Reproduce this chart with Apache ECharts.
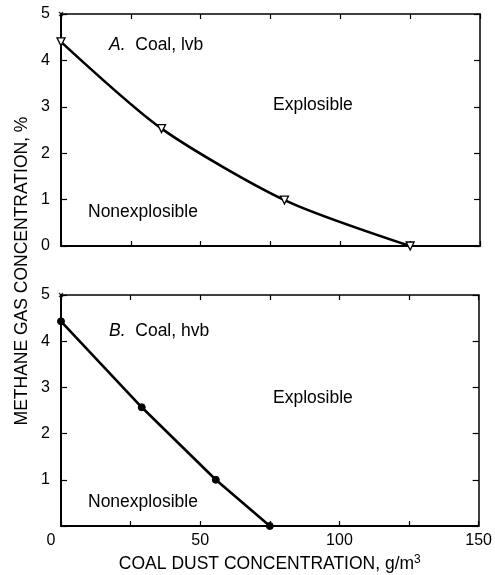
<!DOCTYPE html>
<html><head><meta charset="utf-8">
<script src="https://cdn.jsdelivr.net/npm/echarts@6/dist/echarts.min.js"></script>
<style>html,body{margin:0;padding:0;background:#fff}#c{width:495px;height:575px}</style>
</head><body><div id="c"></div>
<script>
// Data
const lvbDust = [0, 36, 80, 125];
const lvbMethane = [4.4, 2.53, 0.99, 0];
const hvbDust = [0, 29, 55.6, 75];
const hvbMethane = [4.43, 2.57, 1.0, 0];
const xTicks = [0, 50, 100, 150];
const yTicks = [0, 1, 2, 3, 4, 5];

const F = 'Liberation Sans, Arial, Helvetica, sans-serif';
const FS = 17.5;
const TS = 16;
const chart = echarts.init(document.getElementById('c'), null, {renderer: 'canvas'});

const grids = [
  {left: 61, top: 14, width: 419, height: 232},
  {left: 61, top: 295, width: 419, height: 231}
];

function xAx(gi, pos, labels) {
  return {
    type: 'value', gridIndex: gi, position: pos, min: 0, max: 150, interval: 25,
    axisLine: {show: true, onZero: false, lineStyle: {color: '#000', width: pos === 'bottom' ? 2 : 1.5}},
    axisTick: {show: true, inside: true, length: 5, lineStyle: {color: '#000', width: 1.2}},
    splitLine: {show: false},
    axisLabel: {
      show: labels, color: '#000', fontFamily: F, fontSize: TS, margin: 7,
      formatter: v => xTicks.indexOf(v) < 0 ? '' : (v === 0 ? '{z|0}' : String(v)),
      rich: {z: {fontFamily: F, fontSize: TS, color: '#000', padding: [0, 20, 0, 0]}}
    },
    name: labels ? 'COAL DUST CONCENTRATION, g/m{s|3}' : '',
    nameLocation: 'middle', nameGap: 28,
    nameTextStyle: {color: '#000', fontFamily: F, fontSize: FS,
      rich: {s: {fontFamily: F, fontSize: 12, color: '#000', verticalAlign: 'top', padding: [0, 0, 9, 0]}}}
  };
}
function yAx(gi, pos, showZero) {
  return {
    type: 'value', gridIndex: gi, position: pos, min: 0, max: 5, interval: 1,
    axisLine: {show: true, onZero: false, lineStyle: {color: '#000', width: pos === 'left' ? 2 : 1.5}},
    axisTick: {show: true, inside: true, length: 6, lineStyle: {color: '#000', width: 1.2}},
    splitLine: {show: false},
    axisLabel: {
      show: pos === 'left', color: '#000', fontFamily: F, fontSize: TS, margin: 11,
      formatter: v => (v === 0 && !showZero) ? '' : (yTicks.indexOf(v) >= 0 ? String(v) : '')
    }
  };
}

const xMark = 'path://M0,0 L10,10 M10,0 L0,10';

function txt(x, y, t, rich) {
  return {type: 'text', x: x, y: y, style: {text: t, fill: '#000', font: FS + 'px ' + F, textVerticalAlign: 'middle',
    rich: rich ? {i: {fontStyle: 'italic', fontSize: FS, fontFamily: F, fill: '#000'}} : undefined}};
}

const option = {
  animation: false,
  backgroundColor: '#fff',
  grid: grids,
  xAxis: [xAx(0, 'bottom', false), xAx(0, 'top', false), xAx(1, 'bottom', true), xAx(1, 'top', false)],
  yAxis: [yAx(0, 'left', true), yAx(0, 'right', true), yAx(1, 'left', false), yAx(1, 'right', false)],
  series: [
    {
      type: 'line', xAxisIndex: 0, yAxisIndex: 0, smooth: 0.25,
      data: lvbDust.map((x, i) => [x, lvbMethane[i]]),
      lineStyle: {color: '#000', width: 2.6},
      symbol: 'triangle', symbolRotate: 180, symbolSize: 8,
      itemStyle: {color: '#fff', borderColor: '#000', borderWidth: 1.3}, z: 5
    },
    {
      type: 'line', xAxisIndex: 2, yAxisIndex: 2,
      data: hvbDust.map((x, i) => [x, hvbMethane[i]]),
      lineStyle: {color: '#000', width: 2.6},
      symbol: 'circle', symbolSize: 7,
      itemStyle: {color: '#000', borderColor: '#000'}, z: 5
    },
    {type: 'scatter', xAxisIndex: 0, yAxisIndex: 0, data: [[0, 5]], symbol: xMark, symbolSize: 4,
     itemStyle: {color: 'none', borderColor: '#000', borderWidth: 1.2}, z: 6},
    {type: 'scatter', xAxisIndex: 2, yAxisIndex: 2, data: [[0, 5]], symbol: xMark, symbolSize: 4,
     itemStyle: {color: 'none', borderColor: '#000', borderWidth: 1.2}, z: 6}
  ],
  graphic: [
    {type: 'text', x: 22, y: 271, rotation: Math.PI / 2,
     style: {text: 'METHANE GAS CONCENTRATION, %', fill: '#000', font: FS + 'px ' + F, textAlign: 'center', textVerticalAlign: 'middle'}},
    txt(109, 45, '{i|A.}  Coal, lvb', true),
    txt(273, 105, 'Explosible'),
    txt(88, 212, 'Nonexplosible'),
    txt(109, 331, '{i|B.}  Coal, hvb', true),
    txt(273, 398, 'Explosible'),
    txt(88, 502, 'Nonexplosible')
  ]
};
chart.setOption(option);
</script>
</body></html>
